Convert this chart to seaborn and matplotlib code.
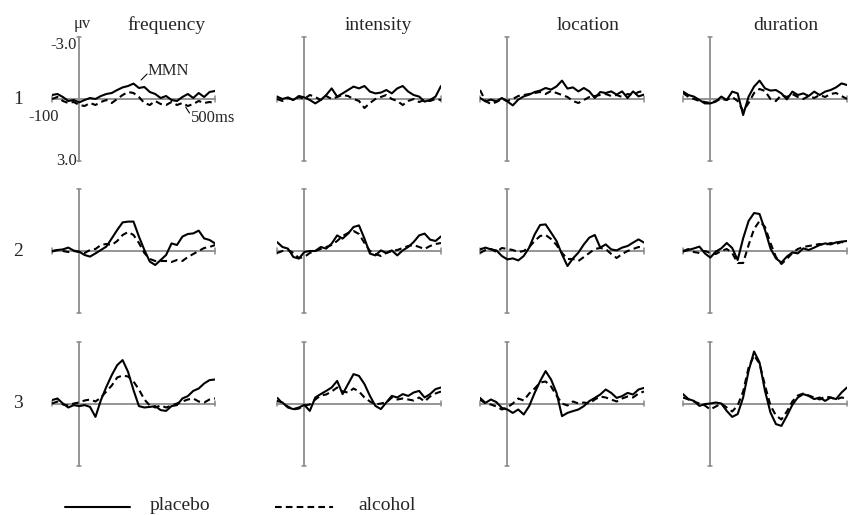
import pandas as pd
import seaborn as sns
import matplotlib.pyplot as plt
from matplotlib.lines import Line2D

# белый фон, шрифт под Times как в статье
sns.set_theme(style="white")
plt.rcParams['font.family'] = ['Liberation Serif', 'DejaVu Serif']

# время, мс (шаг 20)
time_ms = [-100, -80, -60, -40, -20, 0, 20, 40, 60, 80, 100, 120, 140, 160, 180, 200,
           220, 240, 260, 280, 300, 320, 340, 360, 380, 400, 420, 440, 460, 480, 500]

features = ['frequency', 'intensity', 'location', 'duration']
levels = ['1', '2', '3']

# амплитуда, мкВ (минус вверх)
placebo_freq_1 = [-0.2, -0.25, -0.1, 0.1, 0.05, 0.17, 0.05, -0.05, 0.0, -0.15, -0.25, -0.3, -0.45, -0.58, -0.65, -0.77,
                  -0.55, -0.6, -0.35, -0.25, -0.05, -0.15, 0.05, 0.1, -0.1, -0.25, -0.05, -0.3, -0.1, -0.35, -0.4]
alcohol_freq_1 = [0.0, -0.1, 0.1, 0.2, 0.15, 0.3, 0.35, 0.2, 0.3, 0.15, 0.05, 0.2, 0.0, -0.2, -0.35, -0.3,
                  -0.1, 0.2, 0.3, 0.1, 0.25, 0.3, 0.15, 0.3, 0.2, 0.35, 0.25, 0.1, 0.2, 0.15, 0.2]
placebo_int_1 = [-0.12, 0.0, -0.08, 0.05, -0.15, -0.08, 0.05, 0.22, 0.05, -0.2, -0.53, -0.12, -0.28, -0.45, -0.62, -0.53,
                 -0.65, -0.37, -0.28, -0.32, -0.45, -0.28, -0.53, -0.65, -0.37, -0.2, -0.12, 0.13, 0.05, -0.12, -0.65]
alcohol_int_1 = [0.0, 0.1, -0.05, 0.05, -0.1, 0.0, -0.2, -0.1, 0.05, -0.15, 0.0, -0.1, -0.2, -0.15, 0.0, 0.1,
                 0.45, 0.2, 0.0, -0.1, -0.2, 0.0, 0.1, 0.3, 0.1, 0.0, 0.15, 0.05, 0.1, 0.0, 0.05]
placebo_loc_1 = [-0.05, 0.12, 0.03, 0.12, -0.05, 0.12, 0.32, 0.03, -0.13, -0.22, -0.35, -0.42, -0.55, -0.47, -0.63, -0.92,
                 -0.52, -0.58, -0.38, -0.55, -0.38, -0.05, -0.35, -0.3, -0.38, -0.22, -0.38, -0.05, -0.38, -0.13, -0.22]
alcohol_loc_1 = [-0.45, 0.1, 0.25, 0.15, 0.0, 0.1, 0.0, -0.15, -0.2, -0.25, -0.3, -0.35, -0.25, -0.4, -0.3, -0.2,
                 -0.1, 0.1, 0.2, 0.05, -0.1, -0.15, -0.2, -0.25, -0.15, -0.2, -0.1, -0.25, -0.2, -0.35, -0.4]
placebo_dur_1 = [-0.37, -0.2, -0.12, 0.05, 0.22, 0.22, 0.13, -0.12, 0.05, -0.37, -0.28, 0.8, -0.12, -0.62, -0.92, -0.53,
                 -0.42, -0.45, -0.28, 0.02, -0.37, -0.2, -0.28, -0.15, -0.37, -0.2, -0.37, -0.45, -0.58, -0.78, -0.7]
alcohol_dur_1 = [-0.3, -0.1, 0.0, 0.1, 0.15, 0.2, 0.1, 0.0, 0.05, -0.1, 0.1, 0.6, 0.2, -0.3, -0.5, -0.4,
                 0.0, 0.1, -0.2, -0.1, -0.25, -0.1, 0.0, -0.15, -0.05, -0.2, -0.1, -0.25, -0.3, -0.15, 0.0]

placebo_freq_2 = [0.03, -0.05, -0.08, -0.17, -0.02, 0.03, 0.2, 0.28, 0.12, -0.05, -0.22, -0.63, -1.05, -1.43, -1.47, -1.47,
                  -0.72, -0.05, 0.53, 0.7, 0.45, 0.2, -0.38, -0.3, -0.72, -0.85, -0.88, -1.02, -0.63, -0.55, -0.38]
alcohol_freq_2 = [0.0, -0.05, 0.0, 0.05, 0.0, 0.05, 0.1, -0.05, -0.1, -0.3, -0.35, -0.3, -0.5, -0.8, -0.95, -0.8,
                  -0.4, 0.1, 0.4, 0.5, 0.5, 0.5, 0.55, 0.45, 0.5, 0.3, 0.15, 0.0, -0.15, -0.2, -0.3]
placebo_int_2 = [-0.45, -0.2, -0.12, 0.3, 0.38, 0.05, 0.0, 0.0, -0.2, -0.12, -0.37, -0.78, -0.62, -0.87, -1.2, -1.28,
                 -0.62, 0.13, 0.22, -0.03, 0.1, -0.03, 0.22, -0.03, -0.2, -0.45, -0.78, -0.87, -0.57, -0.5, -0.73]
alcohol_int_2 = [0.1, 0.0, -0.05, 0.1, 0.35, 0.3, 0.1, 0.0, -0.1, -0.2, -0.3, -0.5, -0.75, -0.9, -1.0, -0.85,
                 -0.4, 0.0, 0.15, 0.25, 0.1, 0.0, -0.05, -0.15, -0.25, -0.3, -0.2, -0.1, -0.25, -0.35, -0.4]
placebo_loc_2 = [-0.08, -0.17, -0.08, -0.03, 0.25, 0.42, 0.37, 0.47, 0.25, -0.17, -0.83, -1.3, -1.33, -0.92, -0.5, 0.17,
                 0.75, 0.37, 0.08, -0.33, -0.67, -0.8, -0.17, -0.33, -0.08, -0.03, -0.17, -0.25, -0.42, -0.58, -0.42]
alcohol_loc_2 = [0.1, -0.05, -0.1, 0.05, -0.15, -0.1, -0.05, 0.05, 0.0, -0.2, -0.5, -0.75, -0.8, -0.6, -0.3, 0.1,
                 0.4, 0.4, 0.5, 0.3, 0.1, -0.1, -0.15, -0.1, 0.15, 0.35, 0.15, 0.0, -0.1, -0.2, -0.15]
placebo_dur_2 = [0.03, -0.05, -0.13, -0.22, 0.12, 0.33, 0.03, -0.13, -0.4, -0.15, 0.45, -0.63, -1.5, -1.9, -1.85, -1.05,
                 -0.13, 0.37, 0.58, 0.28, 0.07, 0.12, -0.13, -0.05, -0.17, -0.3, -0.38, -0.33, -0.43, -0.47, -0.5]
alcohol_dur_2 = [0.0, -0.1, 0.05, 0.1, 0.0, 0.1, 0.15, 0.0, -0.1, 0.1, 0.6, 0.6, -0.3, -1.1, -1.5, -1.2,
                 -0.4, 0.3, 0.65, 0.4, 0.1, -0.1, -0.2, -0.25, -0.3, -0.35, -0.3, -0.4, -0.35, -0.45, -0.4]

placebo_freq_3 = [-0.17, -0.25, 0.0, 0.2, 0.08, 0.13, 0.08, 0.17, 0.67, -0.17, -0.83, -1.42, -1.92, -2.17, -1.58, -0.67,
                  0.13, 0.2, 0.17, 0.13, 0.33, 0.37, 0.13, 0.08, -0.25, -0.37, -0.63, -0.75, -1.0, -1.17, -1.2]
alcohol_freq_3 = [0.0, -0.1, 0.05, 0.1, 0.0, -0.05, -0.15, -0.2, -0.1, -0.3, -0.6, -0.9, -1.3, -1.4, -1.35, -1.1,
                  -0.7, -0.2, 0.1, 0.2, 0.1, 0.2, 0.1, 0.0, -0.1, -0.2, -0.25, -0.1, -0.05, -0.2, -0.25]
placebo_int_3 = [-0.13, -0.05, 0.2, 0.28, 0.2, 0.07, 0.37, -0.3, -0.47, -0.63, -0.8, -1.13, -0.47, -0.97, -1.47, -1.38,
                 -0.97, -0.38, 0.12, 0.28, -0.05, -0.38, -0.3, -0.47, -0.38, -0.55, -0.63, -0.3, -0.47, -0.72, -0.8]
alcohol_int_3 = [-0.3, 0.0, 0.15, 0.3, 0.25, 0.1, 0.05, -0.2, -0.4, -0.45, -0.6, -0.8, -0.6, -0.55, -0.75, -0.6,
                 -0.3, -0.1, 0.05, 0.0, -0.05, -0.3, -0.2, -0.25, -0.2, -0.15, -0.3, -0.1, -0.35, -0.5, -0.6]
placebo_loc_3 = [-0.28, -0.03, -0.2, -0.07, 0.22, 0.3, 0.47, 0.3, 0.55, 0.13, -0.53, -1.12, -1.62, -1.2, -0.53, 0.63,
                 0.47, 0.38, 0.3, 0.13, -0.12, -0.28, -0.45, -0.7, -0.53, -0.28, -0.37, -0.53, -0.45, -0.7, -0.78]
alcohol_loc_3 = [-0.2, 0.0, 0.05, 0.15, 0.3, 0.2, 0.0, -0.25, -0.15, -0.5, -0.75, -1.05, -1.1, -0.85, -0.4, 0.0,
                 0.1, -0.1, 0.0, -0.05, 0.0, -0.2, -0.35, -0.3, -0.2, -0.1, -0.25, -0.35, -0.3, -0.5, -0.6]
placebo_dur_3 = [-0.47, -0.22, -0.13, 0.12, 0.03, 0.0, -0.05, 0.0, 0.37, 0.67, 0.53, -0.3, -1.63, -2.6, -2.05, -0.63,
                 0.45, 1.03, 1.12, 0.62, 0.07, -0.3, -0.47, -0.38, -0.22, -0.3, -0.13, -0.3, -0.22, -0.55, -0.8]
alcohol_dur_3 = [-0.3, -0.2, -0.1, 0.0, 0.1, 0.3, 0.15, 0.0, 0.2, 0.4, 0.1, -0.6, -1.8, -2.4, -2.0, -0.9,
                 0.1, 0.6, 0.8, 0.4, -0.1, -0.4, -0.5, -0.4, -0.3, -0.2, -0.35, -0.3, -0.2, -0.3, -0.25]

waves = {
    ('frequency', '1'): (placebo_freq_1, alcohol_freq_1),
    ('intensity', '1'): (placebo_int_1, alcohol_int_1),
    ('location', '1'): (placebo_loc_1, alcohol_loc_1),
    ('duration', '1'): (placebo_dur_1, alcohol_dur_1),
    ('frequency', '2'): (placebo_freq_2, alcohol_freq_2),
    ('intensity', '2'): (placebo_int_2, alcohol_int_2),
    ('location', '2'): (placebo_loc_2, alcohol_loc_2),
    ('duration', '2'): (placebo_dur_2, alcohol_dur_2),
    ('frequency', '3'): (placebo_freq_3, alcohol_freq_3),
    ('intensity', '3'): (placebo_int_3, alcohol_int_3),
    ('location', '3'): (placebo_loc_3, alcohol_loc_3),
    ('duration', '3'): (placebo_dur_3, alcohol_dur_3),
}

rows = []
for (feat, lev), (pl, al) in waves.items():
    for t, a in zip(time_ms, pl):
        rows.append((feat, lev, 'placebo', t, a))
    for t, a in zip(time_ms, al):
        rows.append((feat, lev, 'alcohol', t, a))
df = pd.DataFrame(rows, columns=['feature', 'level', 'condition', 'time', 'amp'])

W, H = 850, 515
fig = plt.figure(figsize=(W / 100, H / 100), dpi=100)

# пиксельная раскладка панелей
col_px = [(52, 215), (277, 441), (480, 644), (683, 847)]
row_zero = [99, 251, 403.5]
half = 63
grey = '#8c8c8c'
title_x = [166, 378, 588, 786]

axes = {}
for r, lev in enumerate(levels):
    for c, feat in enumerate(features):
        x0, x1 = col_px[c]
        z = row_zero[r]
        ax = fig.add_axes([x0 / W, (H - (z + half)) / H, (x1 - x0) / W, 2 * half / H])
        ax.set_xlim(-100, 500)
        ax.set_ylim(3.15, -3.15)
        ax.axis('off')
        # оси: горизонтальная с засечками, вертикальная в нуле
        ax.plot([-100, 500], [0, 0], color=grey, lw=1.3, clip_on=False)
        for xe in (-100, 500):
            ax.plot([xe, xe], [-0.13, 0.13], color=grey, lw=1.1, clip_on=False)
        ax.plot([0, 0], [-3.1, 3.1], color=grey, lw=1.3, clip_on=False)
        for ye in (-3.1, 3.1):
            ax.plot([-7, 7], [ye, ye], color=grey, lw=1.1, clip_on=False)
        sub = df[(df['feature'] == feat) & (df['level'] == lev)]
        sns.lineplot(data=sub, x='time', y='amp', style='condition',
                     dashes={'placebo': '', 'alcohol': (3.2, 2.0)},
                     style_order=['alcohol', 'placebo'],
                     color='black', linewidth=1.5, estimator=None,
                     legend=False, ax=ax)
        ax.set_xlim(-100, 500)
        ax.set_ylim(3.15, -3.15)
        axes[(r, c)] = ax

# заголовки колонок и номера строк
for c, feat in enumerate(features):
    fig.text(title_x[c] / W, 1 - 25 / H, feat, ha='center', va='center', fontsize=14)
for r, lev in enumerate(levels):
    fig.text(18 / W, 1 - row_zero[r] / H, lev, ha='center', va='center', fontsize=14)

# подписи осей в первой панели
a0 = axes[(0, 0)]
a0.text(-8, -2.72, '-3.0', ha='right', va='center', fontsize=12)
a0.text(-8, 3.1, '3.0', ha='right', va='center', fontsize=12)
a0.text(10, -3.75, 'μv', ha='center', va='center', fontsize=12)
a0.text(-130, 0.88, '-100', ha='center', va='center', fontsize=12)
a0.text(410, 0.97, '500ms', ha='left', va='center', fontsize=12)
a0.plot([392, 406], [0.4, 0.7], color='black', lw=0.8, clip_on=False)
a0.text(253, -1.4, 'MMN', ha='left', va='center', fontsize=12)
a0.plot([228, 250], [-0.95, -1.25], color='black', lw=0.8, clip_on=False)

# легенда внизу
ly = 1 - 507 / H
fig.add_artist(Line2D([65 / W, 130 / W], [ly, ly], color='black', lw=1.5))
fig.text(150 / W, 1 - 505 / H, 'placebo', ha='left', va='center', fontsize=14)
fig.add_artist(Line2D([275 / W, 333 / W], [ly, ly], color='black', lw=1.5,
                      linestyle=(0, (3.2, 2.0))))
fig.text(358 / W, 1 - 505 / H, 'alcohol', ha='left', va='center', fontsize=14)

fig.savefig('out.png', dpi=100)
